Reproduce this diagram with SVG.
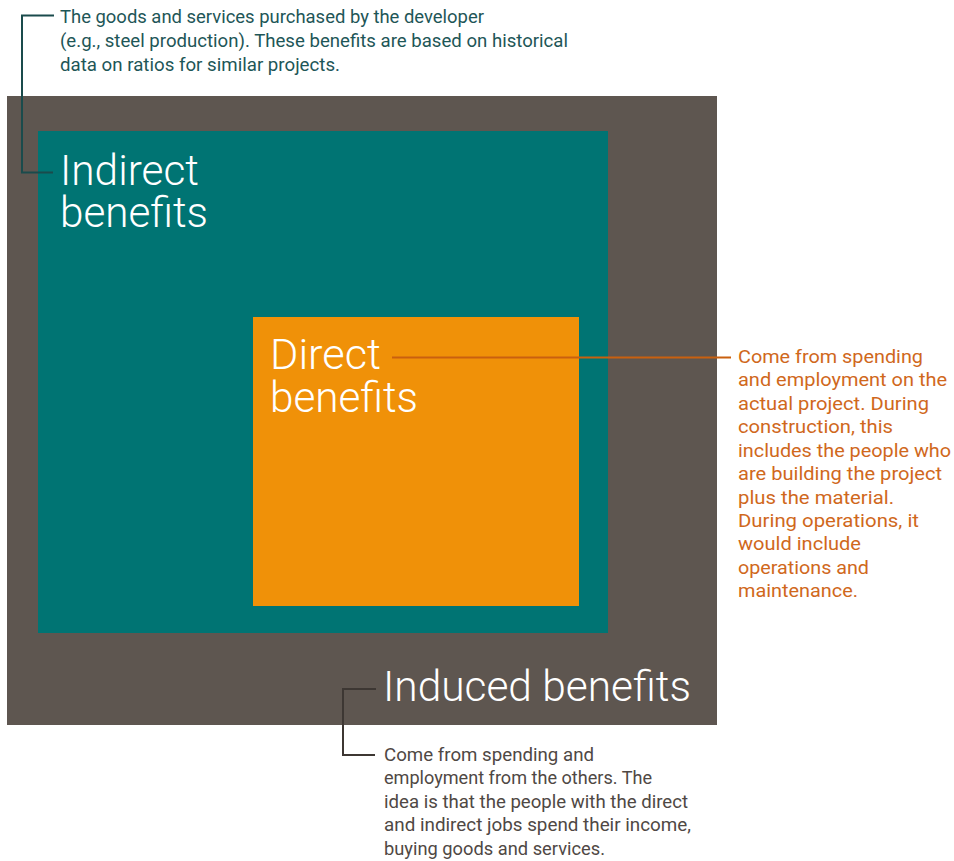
<svg xmlns="http://www.w3.org/2000/svg" width="954" height="861" viewBox="0 0 954 861">
<style>
.big{font-family:Roboto,"Liberation Sans",sans-serif;font-size:43px;font-weight:300;fill:#ffffff}
.sm{font-family:Roboto,"Liberation Sans",sans-serif;font-size:18px}
.top{fill:#1e5657}
.org{fill:#d0681c}
.bot{fill:#4f4844}
.ln{fill:none;stroke-width:2}
</style>
<rect width="954" height="861" fill="#ffffff"/>
<g id="induced">
<rect x="7" y="96" width="710" height="629" fill="#5e5650"/>
<text class="big" x="383" y="701" textLength="308" lengthAdjust="spacingAndGlyphs">Induced benefits</text>
</g>
<g id="indirect">
<rect x="38" y="131" width="570" height="502" fill="#007473"/>
<text class="big" x="60" y="185" textLength="139" lengthAdjust="spacingAndGlyphs">Indirect</text>
<text class="big" x="60" y="227" textLength="148" lengthAdjust="spacingAndGlyphs">benefits</text>
</g>
<g id="direct">
<rect x="253" y="317" width="326" height="289" fill="#f09108"/>
<text class="big" x="270" y="369" textLength="111" lengthAdjust="spacingAndGlyphs">Direct</text>
<text class="big" x="270" y="412" textLength="148" lengthAdjust="spacingAndGlyphs">benefits</text>
</g>
<g id="connectors">
<polyline class="ln" stroke="#1a4b4c" points="54,15.5 22,15.5 22,172.5 53,172.5"/>
<line class="ln" stroke="#c9600f" x1="392" y1="357.5" x2="731" y2="357.5"/>
<polyline class="ln" stroke="#3d3733" points="376,689 343,689 343,755 375,755"/>
</g>
<g id="note-indirect">
<text class="sm top" x="60" y="23" textLength="424" lengthAdjust="spacingAndGlyphs">The goods and services purchased by the developer</text>
<text class="sm top" x="60" y="47" textLength="508" lengthAdjust="spacingAndGlyphs">(e.g., steel production). These benefits are based on historical</text>
<text class="sm top" x="60" y="70.5" textLength="280" lengthAdjust="spacingAndGlyphs">data on ratios for similar projects.</text>
</g>
<g id="note-direct">
<text class="sm org" x="738" y="362.5" textLength="185" lengthAdjust="spacingAndGlyphs">Come from spending</text>
<text class="sm org" x="738" y="386" textLength="209" lengthAdjust="spacingAndGlyphs">and employment on the</text>
<text class="sm org" x="738" y="409.5" textLength="191" lengthAdjust="spacingAndGlyphs">actual project. During</text>
<text class="sm org" x="738" y="433" textLength="155" lengthAdjust="spacingAndGlyphs">construction, this</text>
<text class="sm org" x="738" y="456.5" textLength="213" lengthAdjust="spacingAndGlyphs">includes the people who</text>
<text class="sm org" x="738" y="480" textLength="204" lengthAdjust="spacingAndGlyphs">are building the project</text>
<text class="sm org" x="738" y="503.5" textLength="156" lengthAdjust="spacingAndGlyphs">plus the material.</text>
<text class="sm org" x="738" y="527" textLength="181" lengthAdjust="spacingAndGlyphs">During operations, it</text>
<text class="sm org" x="738" y="550" textLength="123" lengthAdjust="spacingAndGlyphs">would include</text>
<text class="sm org" x="738" y="573.5" textLength="131" lengthAdjust="spacingAndGlyphs">operations and</text>
<text class="sm org" x="738" y="597" textLength="120" lengthAdjust="spacingAndGlyphs">maintenance.</text>
</g>
<g id="note-induced">
<text class="sm bot" x="384" y="761" textLength="210" lengthAdjust="spacingAndGlyphs">Come from spending and</text>
<text class="sm bot" x="384" y="784" textLength="268" lengthAdjust="spacingAndGlyphs">employment from the others. The</text>
<text class="sm bot" x="384" y="807.5" textLength="304" lengthAdjust="spacingAndGlyphs">idea is that the people with the direct</text>
<text class="sm bot" x="384" y="831" textLength="307" lengthAdjust="spacingAndGlyphs">and indirect jobs spend their income,</text>
<text class="sm bot" x="384" y="854.5" textLength="221" lengthAdjust="spacingAndGlyphs">buying goods and services.</text>
</g>
</svg>
